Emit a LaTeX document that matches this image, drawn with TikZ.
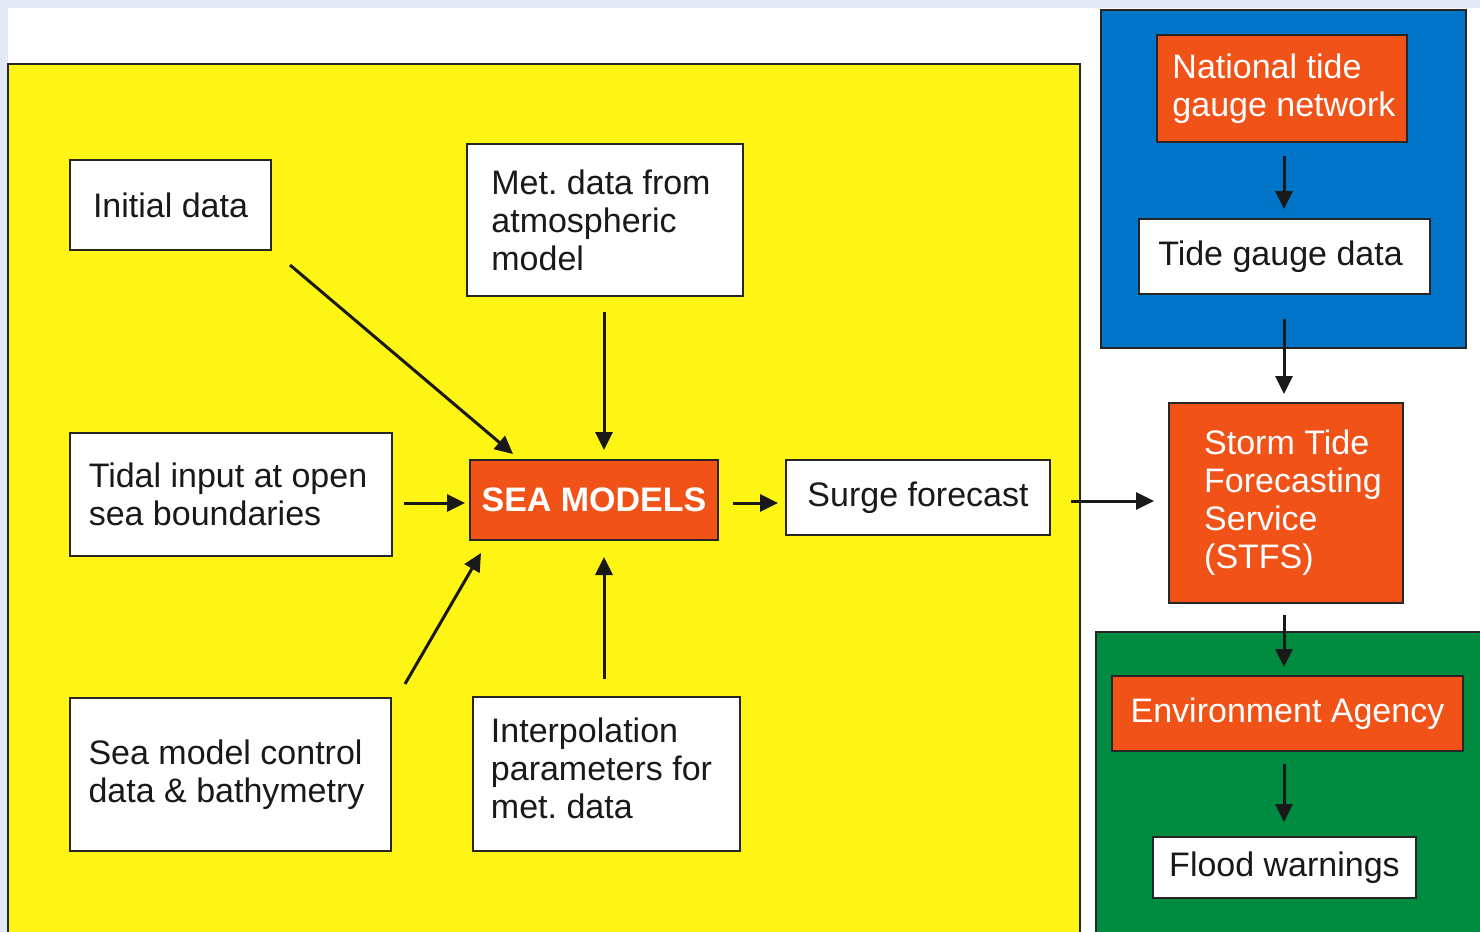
\documentclass[tikz,border=0pt]{standalone}
\usepackage{fontspec}
\setmainfont{Liberation Sans}
\usetikzlibrary{arrows.meta,calc}
\definecolor{bgc}{RGB}{228,234,245}
\definecolor{yel}{RGB}{255,245,20}
\definecolor{blu}{RGB}{0,117,200}
\definecolor{grn}{RGB}{0,140,64}
\definecolor{org}{RGB}{240,82,24}
\definecolor{txt}{RGB}{25,25,25}
\newcommand\lsh[1]{\hspace*{#1}}
\frenchspacing
\tikzset{
  panel/.style={draw=black!85, line width=1pt},
  wbox/.style={draw=black!85, line width=1pt, fill=white, inner sep=0pt, align=left, text=txt,
    font=\fontsize{17}{19}\selectfont},
  obox/.style={wbox, fill=org, text=white},
  arr/.style={draw=black!90, line width=1.5pt, -{Triangle[length=9pt,width=8.5pt]}},
}
\begin{document}
\begin{tikzpicture}[x=0.5pt,y=-0.5pt]
\useasboundingbox (0,0) rectangle (1480,932);
\clip (0,0) rectangle (1480,932);
\fill[bgc] (0,0) rectangle (1480,932);
\fill[white] (8,8) rectangle (1480,940);
% panels
\path[panel, fill=yel] (8,64) rectangle (1080,945);
\path[panel, fill=blu] (1101,10) rectangle (1466,348);
\path[panel, fill=grn] (1096,632) rectangle (1490,945);
% left nodes
\node[wbox, minimum width=100.5pt, minimum height=45pt] (init) at (170.5,205) {Initial data};
\node[wbox, minimum width=138pt, minimum height=76pt] (met) at (605,220)
  {\lsh{-4pt}Met. data from\\\lsh{-4pt}atmospheric\\\lsh{-4pt}model};
\node[wbox, minimum width=161pt, minimum height=61.5pt] (tidal) at (231,494.5)
  {\lsh{-3pt}Tidal input at open\\\lsh{-3pt}sea boundaries};
\node[obox, minimum width=124pt, minimum height=40pt, font=\fontsize{17}{19}\selectfont\bfseries] (sea) at (594,500) {SEA MODELS};
\node[wbox, minimum width=132pt, minimum height=37.5pt] (surge) at (918,497.5) {Surge forecast};
\node[wbox, minimum width=160.5pt, minimum height=76.5pt] (ctrl) at (230.5,774.5)
  {\lsh{-4pt}Sea model control\\\lsh{-4pt}data \& bathymetry\rule[-2pt]{0pt}{2pt}};
\node[wbox, minimum width=133.5pt, minimum height=77pt] (interp) at (606.5,774)
  {\lsh{-5pt}Interpolation\\\lsh{-5pt}parameters for\\\lsh{-5pt}met. data\rule[-6pt]{0pt}{6pt}};
% right nodes
\node[obox, minimum width=125pt, minimum height=53.5pt] (ntgn) at (1282,88.5)
  {\lsh{2pt}National tide\\\lsh{2pt}gauge network};
\node[wbox, minimum width=145.5pt, minimum height=37.5pt] (tgd) at (1284.5,256.5) {\lsh{-4pt}Tide gauge data};
\node[obox, minimum width=117pt, minimum height=100pt] (stfs) at (1286,503)
  {\lsh{7pt}Storm Tide\\\lsh{7pt}Forecasting\\\lsh{7pt}Service\\\lsh{7pt}(STFS)};
\node[obox, minimum width=175.5pt, minimum height=37.5pt] (ea) at (1287.5,713.5) {Environment Agency};
\node[wbox, minimum width=131.5pt, minimum height=30.5pt] (flood) at (1284.5,867.5) {Flood warnings};
% connectors
\draw[arr] ($(init.south east)+(18,14)$) -- ($(sea.north west)+(44,-5)$);
\draw[arr] ($(met.south)+(-1,15)$) -- ($(sea.north)+(10,-9)$);
\draw[arr] ($(tidal.east)+(11,8.5)$) -- ($(sea.west)+(-4,3)$);
\draw[arr] ($(ctrl.north east)+(13,-13)$) -- ($(sea.south west)+(12,12)$);
\draw[arr] ($(interp.north)+(-2.5,-17)$) -- ($(sea.south)+(10,16)$);
\draw[arr] ($(sea.east)+(14,3)$) -- ($(surge.west)+(-7,5.5)$);
\draw[arr] ($(surge.east)+(20,3.5)$) -- ($(stfs.west)+(-14,-2)$);
\draw[arr] ($(ntgn.south)+(2,13)$) -- ($(tgd.north)+(-0.5,-9)$);
\draw[arr] ($(tgd.south)+(-0.5,24)$) -- ($(stfs.north)+(-2,-8)$);
\draw[arr] ($(stfs.south)+(-2,11)$) -- ($(ea.north)+(-3.5,-8)$);
\draw[arr] ($(ea.south)+(-3.5,12)$) -- ($(flood.north)+(-0.5,-14)$);
\end{tikzpicture}
\end{document}
